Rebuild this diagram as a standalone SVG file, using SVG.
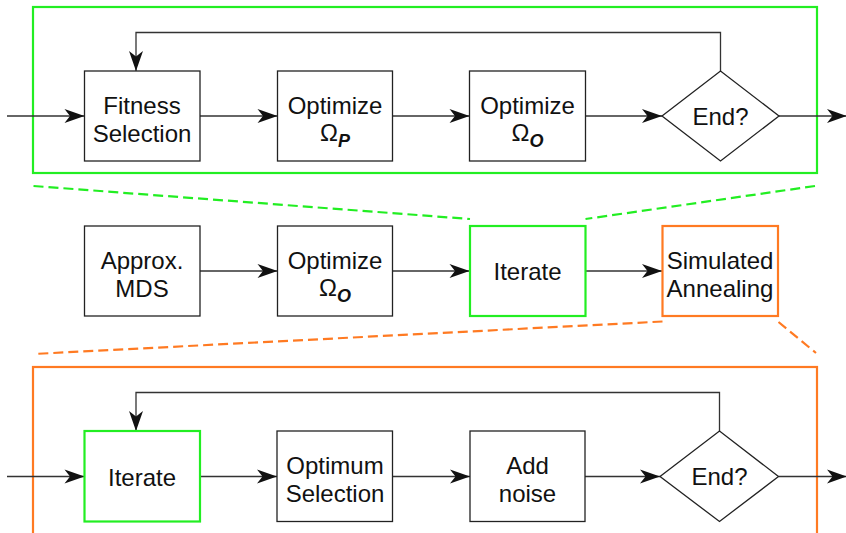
<svg xmlns="http://www.w3.org/2000/svg" width="846" height="533" viewBox="0 0 846 533">
<defs>
<marker id="arr" markerUnits="userSpaceOnUse" markerWidth="24" markerHeight="18" viewBox="-22 -9 24 18" refX="0" refY="0" orient="auto" overflow="visible">
<path d="M0,0 L-20,-7 L-14.5,0 L-20,7 Z" fill="#111"/>
</marker>
</defs>
<style>
.bx{fill:#fff;stroke:#222;stroke-width:1.3}
.gb{fill:#fff;stroke:#22ee22;stroke-width:2.2}
.ob{fill:#fff;stroke:#ff7a22;stroke-width:2.2}
.frame-g{fill:none;stroke:#22ee22;stroke-width:2.2}
.frame-o{fill:none;stroke:#ff7a22;stroke-width:2.2}
.ar{fill:none;stroke:#333;stroke-width:1.3;marker-end:url(#arr)}
.dg{fill:none;stroke:#22ee22;stroke-width:2.2;stroke-dasharray:10 5}
.do{fill:none;stroke:#ff7a22;stroke-width:2.2;stroke-dasharray:10 5}
text{font-family:"Liberation Sans",Arial,sans-serif;font-size:24px;fill:#111;text-anchor:middle}
.sub{font-size:18px;font-weight:bold;font-style:italic}
</style>

<g id="frame-top"><rect class="frame-g" x="33" y="7" width="784" height="166"/></g>
<g id="frame-bottom"><rect class="frame-o" x="33" y="367" width="784" height="200"/></g>

<g id="zoom-lines">
<path class="dg" d="M33.5,186 L470,219"/>
<path class="dg" d="M815,186 L585.5,219"/>
<path class="do" d="M662.5,321.5 L33.5,354"/>
<path class="do" d="M778.5,322 L816,353"/>
</g>

<g id="connectors">
<path class="ar" d="M7,116 H84.5"/>
<path class="ar" d="M200,116 H277.5"/>
<path class="ar" d="M392.5,116 H469.5"/>
<path class="ar" d="M585.5,116 H662"/>
<path class="ar" d="M779,116 H847"/>
<path class="ar" d="M720.5,71 V32.5 H136 V71"/>

<path class="ar" d="M200,271 H277.5"/>
<path class="ar" d="M392.5,271 H469.5"/>
<path class="ar" d="M585.5,271 H662"/>

<path class="ar" d="M7,476.5 H84.5"/>
<path class="ar" d="M200,476.5 H277"/>
<path class="ar" d="M392.5,476.5 H470"/>
<path class="ar" d="M585,476.5 H660"/>
<path class="ar" d="M778.5,476.5 H847"/>
<path class="ar" d="M719.5,431 V392.5 H136 V431"/>
</g>

<g id="fitness-selection"><rect class="bx" x="84.5" y="71" width="115.5" height="90"/>
<text x="142" y="114">Fitness</text><text x="142" y="141.5">Selection</text></g>
<g id="optimize-p"><rect class="bx" x="277.5" y="71" width="115" height="90"/>
<text x="335" y="114">Optimize</text><text x="335" y="141">Ω<tspan class="sub" dy="6">P</tspan></text></g>
<g id="optimize-o-top"><rect class="bx" x="469.5" y="71" width="116" height="90"/>
<text x="527.5" y="114">Optimize</text><text x="527.5" y="141">Ω<tspan class="sub" dy="6">O</tspan></text></g>
<g id="end-top"><polygon class="bx" points="662,116 720.5,71 779,116 720.5,161"/>
<text x="720.5" y="124.5">End?</text></g>

<g id="approx-mds"><rect class="bx" x="84.5" y="226" width="115.5" height="90"/>
<text x="142" y="269">Approx.</text><text x="142" y="296.5">MDS</text></g>
<g id="optimize-o-mid"><rect class="bx" x="277.5" y="226" width="115" height="90"/>
<text x="335" y="269">Optimize</text><text x="335" y="296">Ω<tspan class="sub" dy="6">O</tspan></text></g>
<g id="iterate-mid"><rect class="gb" x="470" y="226" width="115.5" height="90"/>
<text x="527.5" y="279.5">Iterate</text></g>
<g id="simulated-annealing"><rect class="ob" x="662.5" y="226" width="115.5" height="90"/>
<text x="720" y="269">Simulated</text><text x="720" y="296.5">Annealing</text></g>

<g id="iterate-bottom"><rect class="gb" x="84.5" y="431" width="115.5" height="90.5"/>
<text x="142" y="485.5">Iterate</text></g>
<g id="optimum-selection"><rect class="bx" x="277" y="431" width="115.5" height="90.5"/>
<text x="335" y="474">Optimum</text><text x="335" y="501.5">Selection</text></g>
<g id="add-noise"><rect class="bx" x="470" y="431" width="115" height="90.5"/>
<text x="527.5" y="474">Add</text><text x="527.5" y="501.5">noise</text></g>
<g id="end-bottom"><polygon class="bx" points="660,476.5 719.5,431 778.5,476.5 719.5,521.5"/>
<text x="719.5" y="485">End?</text></g>
</svg>
